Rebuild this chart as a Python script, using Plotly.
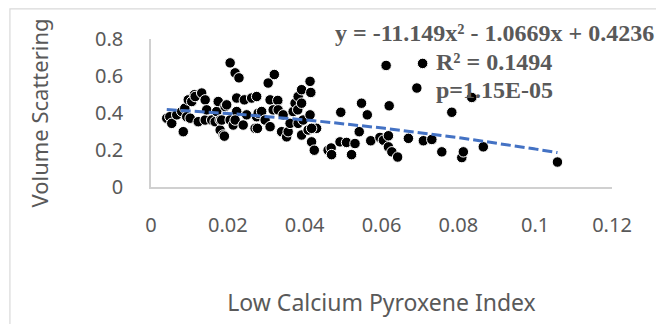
import numpy as np
import plotly.graph_objects as go

# Scatter data (Low Calcium Pyroxene Index vs Volume Scattering)
lcp_index = [
    0.0041, 0.0049, 0.0054, 0.0067, 0.0080, 0.0084, 0.0088, 0.0093, 0.0097, 0.0102,
    0.0106, 0.0113, 0.0115, 0.0123, 0.0132, 0.0141, 0.0141, 0.0145, 0.0158, 0.0167,
    0.0171, 0.0175, 0.0180, 0.0180, 0.0184, 0.0188, 0.0191, 0.0193, 0.0197, 0.0206,
    0.0206, 0.0214, 0.0219, 0.0229, 0.0223, 0.0223, 0.0219, 0.0240, 0.0243, 0.0249,
    0.0262, 0.0271, 0.0275, 0.0275, 0.0277, 0.0279, 0.0288, 0.0297, 0.0305, 0.0321,
    0.0310, 0.0330, 0.0310, 0.0318, 0.0331, 0.0340, 0.0344, 0.0353, 0.0357, 0.0362,
    0.0370, 0.0375, 0.0382, 0.0383, 0.0383, 0.0392, 0.0392, 0.0392, 0.0396, 0.0409,
    0.0414, 0.0416, 0.0414, 0.0418, 0.0425, 0.0431, 0.0418, 0.0461, 0.0469, 0.0470,
    0.0494, 0.0492, 0.0509, 0.0522, 0.0531, 0.0542, 0.0548, 0.0563, 0.0572, 0.0596,
    0.0605, 0.0618, 0.0620, 0.0612, 0.0618, 0.0627, 0.0642, 0.0670, 0.0692, 0.0707,
    0.0709, 0.0731, 0.0757, 0.0783, 0.0809, 0.0813, 0.0835, 0.0865, 0.1058,
]
vol_scattering = [
    0.372, 0.380, 0.344, 0.390, 0.408, 0.299, 0.426, 0.380, 0.471, 0.372,
    0.462, 0.499, 0.489, 0.353, 0.508, 0.471, 0.362, 0.417, 0.362, 0.353,
    0.408, 0.462, 0.362, 0.308, 0.362, 0.281, 0.275, 0.435, 0.444, 0.671,
    0.362, 0.335, 0.617, 0.590, 0.481, 0.408, 0.362, 0.335, 0.471, 0.390,
    0.481, 0.317, 0.489, 0.380, 0.317, 0.399, 0.408, 0.362, 0.562, 0.608,
    0.471, 0.468, 0.326, 0.417, 0.417, 0.299, 0.390, 0.271, 0.299, 0.344,
    0.408, 0.453, 0.417, 0.344, 0.489, 0.526, 0.453, 0.281, 0.362, 0.308,
    0.571, 0.511, 0.390, 0.244, 0.199, 0.317, 0.317, 0.199, 0.211, 0.175,
    0.404, 0.244, 0.241, 0.175, 0.235, 0.299, 0.453, 0.390, 0.250, 0.268,
    0.253, 0.277, 0.439, 0.657, 0.217, 0.190, 0.162, 0.263, 0.535, 0.668,
    0.250, 0.257, 0.190, 0.404, 0.159, 0.190, 0.484, 0.217, 0.135,
]

# Polynomial trendline coefficients shown on the chart
coef_a, coef_b, coef_c = -11.149, -1.0669, 0.4236
trend_label = ["y = -11.149x\u00b2 - 1.0669x + 0.4236", "R\u00b2 = 0.1494", "p=1.15E-05"]

x_ticks = [0, 0.02, 0.04, 0.06, 0.08, 0.1, 0.12]
x_tick_text = ["0", "0.02", "0.04", "0.06", "0.08", "0.1", "0.12"]
y_ticks = [0, 0.2, 0.4, 0.6, 0.8]
y_tick_text = ["0", "0.2", "0.4", "0.6", "0.8"]

TXT = "#595959"
AXIS = "#d0d0d0"

xt = np.linspace(min(lcp_index), max(lcp_index), 200)
yt = coef_a * xt ** 2 + coef_b * xt + coef_c

fig = go.Figure()
fig.add_trace(go.Scatter(
    x=lcp_index, y=vol_scattering, mode="markers",
    marker=dict(color="black", size=10.5, line=dict(color="white", width=1)),
    showlegend=False, cliponaxis=False,
))
fig.add_trace(go.Scatter(
    x=xt, y=yt, mode="lines",
    line=dict(color="#4472C4", width=3, dash="10px,4px"),
    showlegend=False,
))

for txt, yp in zip(trend_label, [1.041, 0.844, 0.654]):
    fig.add_annotation(
        x=0.0893, xref="x", y=yp, yref="paper", text=txt, showarrow=False,
        xanchor="center", yanchor="middle",
        font=dict(family="Liberation Serif", size=24, color=TXT, weight="bold"),
    )

fig.add_shape(type="rect", xref="paper", yref="paper",
              x0=-0.306, x1=1.3, y0=-1.3, y1=1.203,
              line=dict(color="#d9d9d9", width=1.2), fillcolor="rgba(0,0,0,0)", layer="below")

fig.update_layout(
    width=656, height=324,
    margin=dict(l=151, r=44, t=39, b=137),
    paper_bgcolor="white", plot_bgcolor="white",
    font=dict(family="Noto Sans", color=TXT),
    xaxis=dict(
        range=[0, 0.12], tickvals=x_ticks, ticktext=x_tick_text,
        showgrid=False, zeroline=False, showline=True, linecolor=AXIS, linewidth=1.5,
        ticks="", ticklabelstandoff=19, tickfont=dict(size=20, color=TXT),
        title=dict(text="Low Calcium Pyroxene Index", font=dict(size=23, color=TXT), standoff=58),
    ),
    yaxis=dict(
        range=[0, 0.8], tickvals=y_ticks, ticktext=y_tick_text,
        showgrid=False, zeroline=False, showline=True, linecolor=AXIS, linewidth=1.5,
        ticks="", ticklabelstandoff=22, tickfont=dict(size=20, color=TXT),
        title=dict(text="Volume Scattering", font=dict(size=22, color=TXT), standoff=40),
    ),
)

fig.write_html("out.html")
